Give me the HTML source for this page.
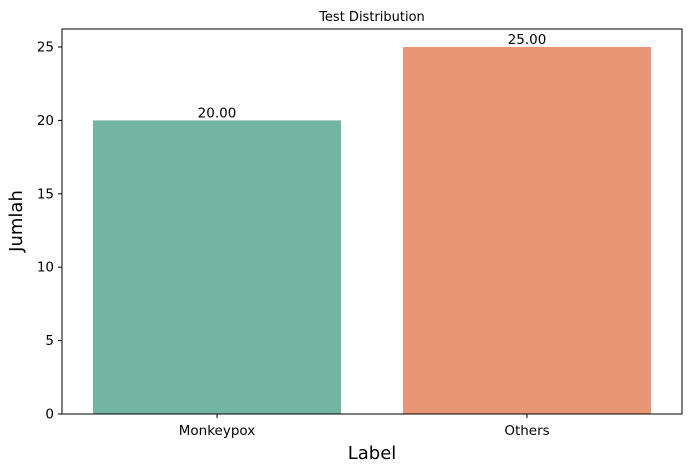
<!DOCTYPE html>
<html><head><meta charset="utf-8"><style>
body{margin:0;background:#fff;}
svg{display:block;font-family:"DejaVu Sans","Liberation Sans",sans-serif;}
</style></head><body>
<svg id="chart" width="691" height="472">
<text x="372" y="21" font-size="13" text-anchor="middle">Test Distribution</text>
<g id="bars"></g>
<rect x="62" y="29" width="620" height="385" fill="none" stroke="#000" stroke-width="1"/>
<g id="axes"></g>
<text x="372" y="459" font-size="18" text-anchor="middle">Label</text>
<text transform="translate(22,221) rotate(-90)" font-size="18" text-anchor="middle">Jumlah</text>
</svg>
<script>
const categories=["Monkeypox","Others"];
const values=[20,25];
const colors=["#72b6a1","#e99675"];
const yTicks=[0,5,10,15,20,25];
const L=62,R=682,T=29,B=414,ymax=25;
const NS="http://www.w3.org/2000/svg";
const bw=(R-L)/categories.length;
const y=v=>B-(v/ymax)*(B-47);
const xc=i=>L+bw*(i+0.5);
const bars=document.getElementById('bars'),axes=document.getElementById('axes');
function mk(t,a,p){const e=document.createElementNS(NS,t);for(const k in a)e.setAttribute(k,a[k]);p.appendChild(e);return e;}
categories.forEach((c,i)=>{
 const r=mk('rect',{x:xc(i)-bw*0.4,y:y(values[i]),width:bw*0.8,height:B-y(values[i]),fill:colors[i]},bars);
 
 
 const t=mk('text',{x:xc(i),y:y(values[i])-3,'font-size':13.5,'text-anchor':'middle'},bars);
 t.textContent=values[i].toFixed(2);
 
 
 mk('line',{x1:xc(i),x2:xc(i),y1:B,y2:B+4,stroke:'#000'},axes);
 const xl=mk('text',{x:xc(i),y:B+21,'font-size':13.5,'text-anchor':'middle'},axes);
 xl.textContent=c;
 
 
});
yTicks.forEach(v=>{
 mk('line',{x1:L-4,x2:L,y1:y(v),y2:y(v),stroke:'#000'},axes);
 const t=mk('text',{x:L-8,y:y(v)+4.5,'font-size':13.5,'text-anchor':'end'},axes);
 t.textContent=v;
 
 
});
</script>
</body></html>
